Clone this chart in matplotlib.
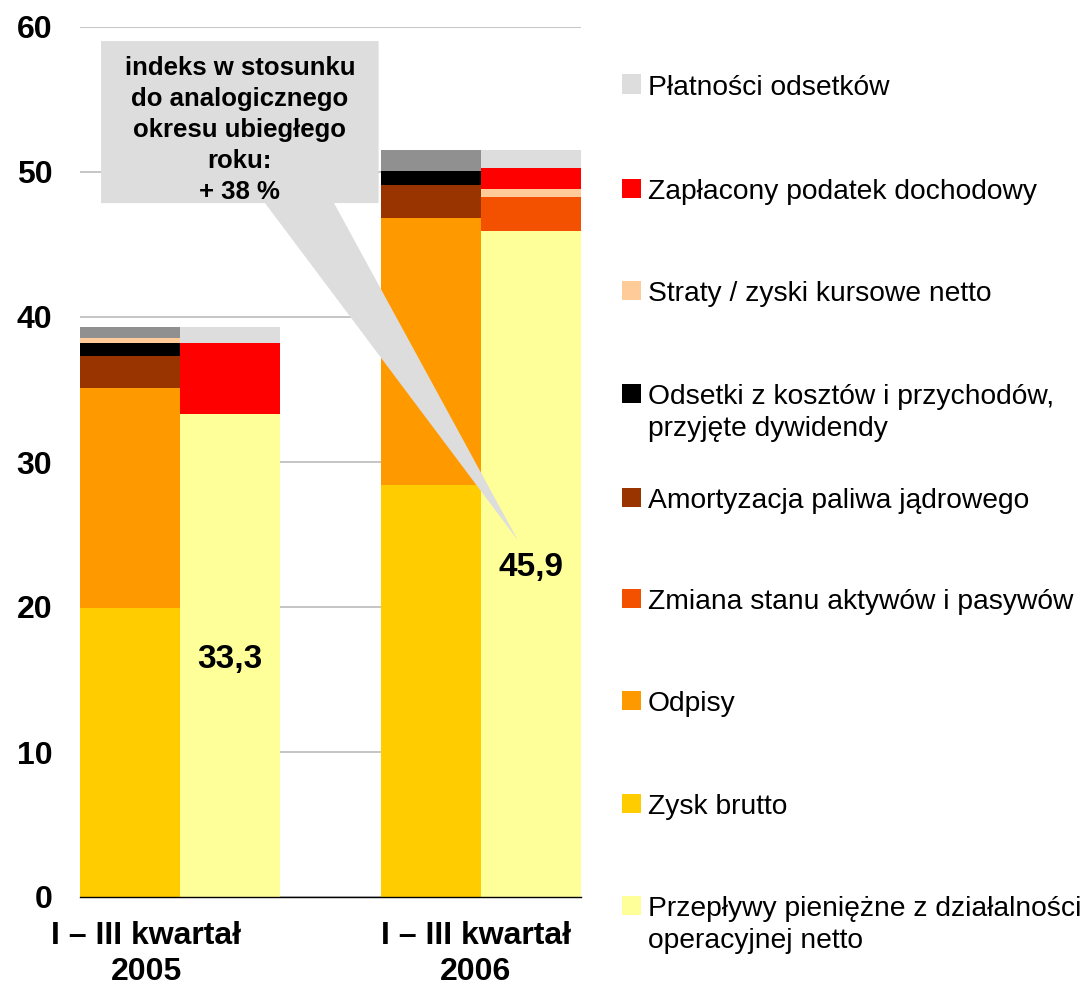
import matplotlib

matplotlib.use("Agg")

import matplotlib.pyplot as plt
import numpy as np
from matplotlib.patches import Polygon, Rectangle

plt.rcParams["font.family"] = ["Liberation Sans", "DejaVu Sans"]

# data (bn PLN)
categories = ["I \u2013 III kwarta\u0142\n2005", "I \u2013 III kwarta\u0142\n2006"]

# left column of each period (sources), bottom to top
zysk_brutto = [19.9, 28.4]
odpisy = [15.2, 18.4]
amortyzacja = [2.2, 2.3]
odsetki = [0.9, 0.95]
straty_left = [0.35, 0.0]
pozostale = [0.75, 1.45]

# right column of each period (uses), bottom to top
przeplywy = [33.3, 45.9]
zmiana_stanu = [0.0, 2.4]
straty_right = [0.0, 0.5]
podatek = [4.9, 1.5]
platnosci = [1.1, 1.2]

index_text = "indeks w stosunku\ndo analogicznego\nokresu ubieg\u0142ego\nroku:\n+ 38 %"

C_GRAY_L = "#DDDDDD"
C_GRAY_D = "#909090"
C_RED = "#FF0000"
C_PEACH = "#FFCC99"
C_BLACK = "#000000"
C_BROWN = "#993300"
C_ORANGE_RED = "#F35000"
C_ORANGE = "#FF9900"
C_YELLOW = "#FFCC00"
C_LIGHT_YELLOW = "#FFFF99"

left_series = [
    (zysk_brutto, C_YELLOW),
    (odpisy, C_ORANGE),
    (amortyzacja, C_BROWN),
    (odsetki, C_BLACK),
    (straty_left, C_PEACH),
    (pozostale, C_GRAY_D),
]
right_series = [
    (przeplywy, C_LIGHT_YELLOW),
    (zmiana_stanu, C_ORANGE_RED),
    (straty_right, C_PEACH),
    (podatek, C_RED),
    (platnosci, C_GRAY_L),
]

legend_items = [
    ("P\u0142atno\u015bci odsetk\u00f3w", C_GRAY_L),
    ("Zap\u0142acony podatek dochodowy", C_RED),
    ("Straty / zyski kursowe netto", C_PEACH),
    ("Odsetki z koszt\u00f3w i przychod\u00f3w,\nprzyj\u0119te dywidendy", C_BLACK),
    ("Amortyzacja paliwa j\u0105drowego", C_BROWN),
    ("Zmiana stanu aktyw\u00f3w i pasyw\u00f3w", C_ORANGE_RED),
    ("Odpisy", C_ORANGE),
    ("Zysk brutto", C_YELLOW),
    ("Przep\u0142ywy pieni\u0119\u017cne z dzia\u0142alno\u015bci\noperacyjnej netto", C_LIGHT_YELLOW),
]

W, H = 1083, 992
fig = plt.figure(figsize=(W / 100, H / 100), dpi=100)
ax = fig.add_axes([80 / W, 95 / H, 501 / W, 870 / H])

x_left = np.array([0.0, 3.0])
x_right = x_left + 1.0

bottom = np.zeros(2)
for values, color in left_series:
    ax.bar(x_left, values, width=1.0, bottom=bottom, color=color, linewidth=0, zorder=2)
    bottom += np.array(values)

bottom = np.zeros(2)
for values, color in right_series:
    ax.bar(x_right, values, width=1.0, bottom=bottom, color=color, linewidth=0, zorder=2)
    bottom += np.array(values)

for x, v in zip(x_right, przeplywy):
    ax.text(x, v / 2, f"{v:.1f}".replace(".", ","), ha="center", va="center_baseline",
            fontsize=24, fontweight="bold", zorder=8)

ax.set_xlim(-0.5, 4.5)
ax.set_ylim(0, 60)
ax.set_yticks(np.arange(0, 61, 10))
ax.yaxis.grid(True, color="#C0C0C0", linewidth=1.3)
ax.set_axisbelow(True)
for side in ["left", "top", "right"]:
    ax.spines[side].set_visible(False)
ax.spines["bottom"].set_color("black")
ax.spines["bottom"].set_linewidth(1.0)
ax.spines["bottom"].set_zorder(3)
ax.tick_params(axis="y", length=0, pad=20, labelsize=23)
ax.set_xticks([0.16, 3.45])
ax.set_xticklabels(categories, fontsize=23, fontweight="bold", linespacing=1.26)
ax.tick_params(axis="x", length=0, pad=17)
for lbl in ax.get_yticklabels():
    lbl.set_fontweight("bold")

# callout with wedge pointing to the 2006 value
bx0, bx1, by0, by1 = -0.29, 2.48, 47.86, 59.03
wedge = [1.346, 2.035]
tip = (3.87, 24.6)
callout = Polygon(
    [(bx0, by1), (bx1, by1), (bx1, by0), (wedge[1], by0), tip, (wedge[0], by0), (bx0, by0)],
    closed=True, facecolor=C_GRAY_L, edgecolor="none", zorder=6,
)
ax.add_patch(callout)
ax.text((bx0 + bx1) / 2, 52.9, index_text, ha="center", va="center", fontsize=18.5,
        fontweight="bold", linespacing=1.36, zorder=7)

# legend drawn by hand to keep the wide spacing
legend_y = [84, 188, 290, 393, 497, 598, 700, 803, 905]
for (label, color), py in zip(legend_items, legend_y):
    fig.add_artist(Rectangle((622 / W, 1 - (py + 9.5) / H), 19 / W, 19 / H,
                             transform=fig.transFigure, facecolor=color, edgecolor="none"))
    fig.text(648 / W, 1 - (py - 9) / H, label, ha="left", va="top", fontsize=20.3,
             linespacing=1.32)

fig.savefig("out.png", dpi=100)
